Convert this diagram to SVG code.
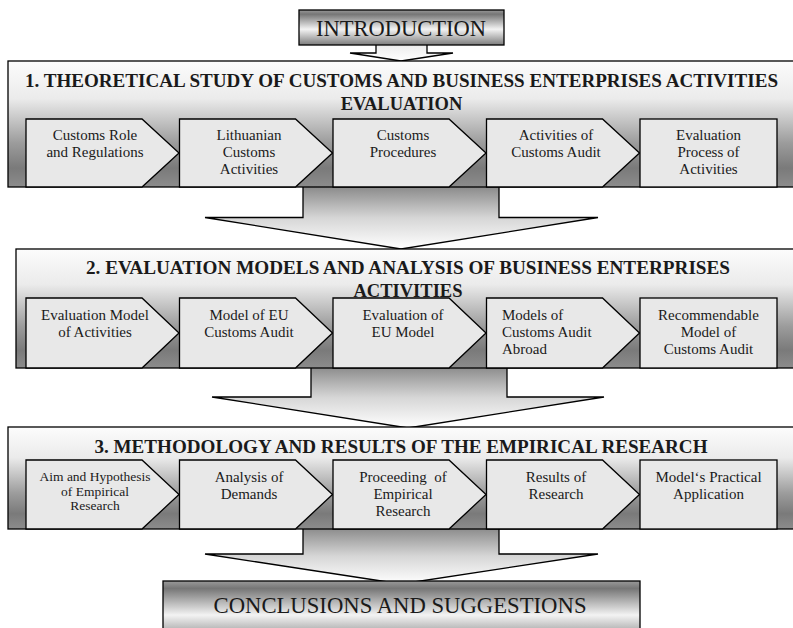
<svg xmlns="http://www.w3.org/2000/svg" width="793" height="628" viewBox="0 0 793 628">
  <defs>
    <linearGradient id="gSection" x1="0" y1="0" x2="0" y2="1">
      <stop offset="0" stop-color="#fcfcfc"/>
      <stop offset="0.3" stop-color="#ebebeb"/>
      <stop offset="0.65" stop-color="#9c9c9c"/>
      <stop offset="0.85" stop-color="#7a7a7a"/>
      <stop offset="1" stop-color="#8c8c8c"/>
    </linearGradient>
    <linearGradient id="gBanner" x1="0" y1="0" x2="0" y2="1">
      <stop offset="0" stop-color="#9a9a9a"/>
      <stop offset="0.12" stop-color="#767676"/>
      <stop offset="0.55" stop-color="#f3f3f3"/>
      <stop offset="1" stop-color="#7c7c7c"/>
    </linearGradient>
    <linearGradient id="gArrow" x1="0" y1="0" x2="0" y2="1">
      <stop offset="0" stop-color="#7a7a7a"/>
      <stop offset="0.55" stop-color="#d6d6d6"/>
      <stop offset="1" stop-color="#ffffff"/>
    </linearGradient>
    <linearGradient id="gArrowLight" x1="0" y1="0" x2="0" y2="1">
      <stop offset="0" stop-color="#e6e6e6"/>
      <stop offset="1" stop-color="#ffffff"/>
    </linearGradient>
    <style>
      .sec { fill: url(#gSection); stroke: #000; stroke-width: 1.3; }
      .banner { fill: url(#gBanner); stroke: #000; stroke-width: 1.3; }
      .arrow { fill: url(#gArrow); stroke: #000; stroke-width: 1.3; stroke-linejoin: miter; }
      .arrowL { fill: url(#gArrowLight); stroke: #000; stroke-width: 1.3; }
      .chev { fill: #e8e8e8; stroke: #000; stroke-width: 1.3; stroke-linejoin: miter; }
      text { font-family: 'Liberation Serif', 'DejaVu Serif', serif; fill: #1a1a1a; }
      .title { font-weight: bold; font-size: 18.5px; text-anchor: middle; }
      .big { font-size: 22.5px; text-anchor: middle; }
      .lbl { font-size: 15px; text-anchor: middle; }
      .lblL { font-size: 15px; text-anchor: start; }
      .lblS { font-size: 13.5px; text-anchor: middle; }
    </style>
  </defs>

  <!-- block arrows leading from one stage to the next -->
  <g id="connectors">
    <path class="arrowL" d="M376,40 V53 H350 L401,61 L453,53 H427 V40 Z"/>
    <path class="arrow" d="M303,180 V217.5 H205 L401,249 L598,217.5 H499 V180 Z"/>
    <path class="arrow" d="M311,360 V397 H212 L408,428 L604,397 H507 V360 Z"/>
    <path class="arrow" d="M303,522 V554 H205 L401,584 L598,554 H499 V522 Z"/>
  </g>

  <!-- opening banner -->
  <g id="introduction">
    <rect class="banner" x="299" y="10" width="205" height="35"/>
    <text class="big" x="401" y="36" font-size="22">INTRODUCTION</text>
  </g>

  <!-- stage 1 -->
  <g id="stage1">
    <rect class="sec" x="8" y="61" width="800" height="126"/>
    <text class="title" x="401.5" y="86.5" textLength="753" lengthAdjust="spacingAndGlyphs">1. THEORETICAL STUDY OF CUSTOMS AND BUSINESS ENTERPRISES ACTIVITIES</text>
    <text class="title" x="401.5" y="110">EVALUATION</text>
    <g id="s1-role">
      <path class="chev" d="M26,119 H142 L179,153 L142,187 H26 Z"/>
      <text class="lbl" x="95" y="140">Customs Role</text>
      <text class="lbl" x="95" y="157">and Regulations</text>
    </g>
    <g id="s1-lithuanian">
      <path class="chev" d="M179.5,119 H295.5 L332.5,153 L295.5,187 H179.5 Z"/>
      <text class="lbl" x="249" y="140">Lithuanian</text>
      <text class="lbl" x="249" y="157">Customs</text>
      <text class="lbl" x="249" y="174">Activities</text>
    </g>
    <g id="s1-procedures">
      <path class="chev" d="M333,119 H449 L486,153 L449,187 H333 Z"/>
      <text class="lbl" x="403" y="140">Customs</text>
      <text class="lbl" x="403" y="157">Procedures</text>
    </g>
    <g id="s1-audit">
      <path class="chev" d="M486.5,119 H602.5 L639.5,153 L602.5,187 H486.5 Z"/>
      <text class="lbl" x="556" y="140">Activities of</text>
      <text class="lbl" x="556" y="157">Customs Audit</text>
    </g>
    <g id="s1-evaluation">
      <rect class="chev" x="640" y="119" width="137" height="68"/>
      <text class="lbl" x="708.5" y="140">Evaluation</text>
      <text class="lbl" x="708.5" y="157">Process of</text>
      <text class="lbl" x="708.5" y="174">Activities</text>
    </g>
  </g>

  <!-- stage 2 -->
  <g id="stage2">
    <rect class="sec" x="16" y="249" width="800" height="119"/>
    <text class="title" x="408" y="273.5" textLength="644" lengthAdjust="spacingAndGlyphs">2. EVALUATION MODELS AND ANALYSIS OF BUSINESS ENTERPRISES</text>
    <text class="title" x="408" y="297">ACTIVITIES</text>
    <g id="s2-model">
      <path class="chev" d="M26,298 H142 L179,333 L142,368 H26 Z"/>
      <text class="lbl" x="95" y="320">Evaluation Model</text>
      <text class="lbl" x="95" y="337">of Activities</text>
    </g>
    <g id="s2-eu-audit">
      <path class="chev" d="M179.5,298 H295.5 L332.5,333 L295.5,368 H179.5 Z"/>
      <text class="lbl" x="249" y="320">Model of EU</text>
      <text class="lbl" x="249" y="337">Customs Audit</text>
    </g>
    <g id="s2-eu-eval">
      <path class="chev" d="M333,298 H449 L486,333 L449,368 H333 Z"/>
      <text class="lbl" x="403" y="320">Evaluation of</text>
      <text class="lbl" x="403" y="337">EU Model</text>
    </g>
    <g id="s2-abroad">
      <path class="chev" d="M486.5,298 H602.5 L639.5,333 L602.5,368 H486.5 Z"/>
      <text class="lblL" x="502" y="320">Models of</text>
      <text class="lblL" x="502" y="337">Customs Audit</text>
      <text class="lblL" x="502" y="354">Abroad</text>
    </g>
    <g id="s2-recommended">
      <rect class="chev" x="640" y="298" width="137" height="70"/>
      <text class="lbl" x="708.5" y="320">Recommendable</text>
      <text class="lbl" x="708.5" y="337">Model of</text>
      <text class="lbl" x="708.5" y="354">Customs Audit</text>
    </g>
  </g>

  <!-- stage 3 -->
  <g id="stage3">
    <rect class="sec" x="8" y="427" width="800" height="102"/>
    <text class="title" x="401" y="452.5" textLength="613" lengthAdjust="spacingAndGlyphs">3. METHODOLOGY AND RESULTS OF THE EMPIRICAL RESEARCH</text>
    <g id="s3-aim">
      <path class="chev" d="M26,460 H142 L179,494.5 L142,529 H26 Z"/>
      <text class="lblS" x="95" y="481">Aim and Hypothesis</text>
      <text class="lblS" x="95" y="495.5">of Empirical</text>
      <text class="lblS" x="95" y="510">Research</text>
    </g>
    <g id="s3-demands">
      <path class="chev" d="M179.5,460 H295.5 L332.5,494.5 L295.5,529 H179.5 Z"/>
      <text class="lbl" x="249" y="481.5">Analysis of</text>
      <text class="lbl" x="249" y="498.5">Demands</text>
    </g>
    <g id="s3-proceeding">
      <path class="chev" d="M333,460 H449 L486,494.5 L449,529 H333 Z"/>
      <text class="lbl" x="403" y="481.5" xml:space="preserve">Proceeding  of</text>
      <text class="lbl" x="403" y="498.5">Empirical</text>
      <text class="lbl" x="403" y="515.5">Research</text>
    </g>
    <g id="s3-results">
      <path class="chev" d="M486.5,460 H602.5 L639.5,494.5 L602.5,529 H486.5 Z"/>
      <text class="lbl" x="556" y="481.5">Results of</text>
      <text class="lbl" x="556" y="498.5">Research</text>
    </g>
    <g id="s3-application">
      <rect class="chev" x="640" y="460" width="137" height="69"/>
      <text class="lbl" x="708.5" y="481.5">Model‘s Practical</text>
      <text class="lbl" x="708.5" y="498.5">Application</text>
    </g>
  </g>

  <!-- closing banner -->
  <g id="conclusions">
    <rect class="banner" x="163" y="581" width="477" height="62"/>
    <text class="big" x="400" y="613" textLength="373" lengthAdjust="spacingAndGlyphs">CONCLUSIONS AND SUGGESTIONS</text>
  </g>
</svg>
